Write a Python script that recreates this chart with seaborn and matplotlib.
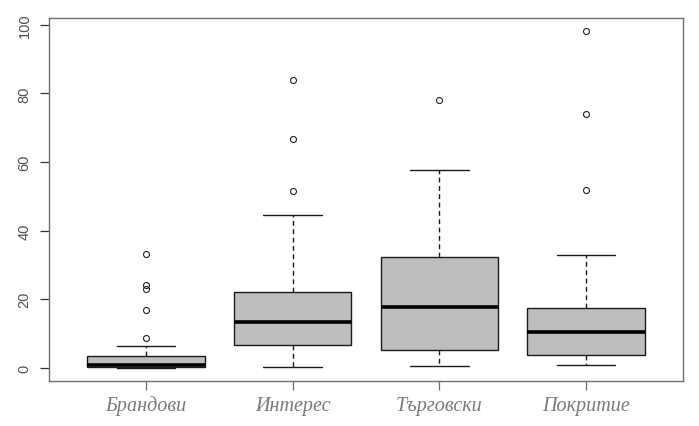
import numpy as np
import pandas as pd
import matplotlib
matplotlib.use("Agg")
import matplotlib.pyplot as plt
import seaborn as sns

# categories on the x axis
categories = ["Брандови", "Интерес", "Търговски", "Покритие"]

# values per category (quartiles, whiskers, outliers)
brandovi = [0.0, 0.0, 0.1, 0.1, 0.1, 0.2, 0.2, 0.3, 0.4, 0.4, 0.5, 0.5, 0.6,
            0.8, 1.1, 1.5, 2.0, 2.6, 3.4, 6.3, 8.6, 16.7, 22.8, 24.1, 33.2]
interes = [0.3, 2.1, 3.8, 5.2, 6.7, 8.4, 10.1, 11.9, 13.3, 15.2, 17.4, 19.8,
           22.0, 44.5, 51.6, 66.6, 83.9]
targovski = [0.4, 1.8, 2.9, 4.0, 5.1, 8.3, 11.2, 14.6, 17.6, 20.5, 24.3, 28.1,
             32.4, 38.0, 45.9, 57.7, 78.2]
pokritie = [0.6, 1.2, 2.0, 2.9, 3.7, 5.4, 7.1, 8.8, 10.5, 12.0, 13.6, 15.4,
            17.3, 32.9, 51.8, 74.0, 98.1]

yticks = [0, 20, 40, 60, 80, 100]

df = pd.concat([
    pd.DataFrame({"group": name, "value": vals})
    for name, vals in zip(categories, [brandovi, interes, targovski, pokritie])
])

sns.set_style("white")
plt.rcParams["font.family"] = ["Liberation Sans", "DejaVu Sans"]

fig = plt.figure(figsize=(6.99, 4.27), dpi=100)
ax = fig.add_axes([0.0701, 0.1054, 0.9069, 0.8501])

sns.boxplot(
    data=df, x="group", y="value", order=categories,
    color="#bebebe", linecolor="#1a1a1a", saturation=1,
    linewidth=1.0, width=0.8, whis=1.5,
    flierprops=dict(marker="o", markersize=4.3, markerfacecolor="none",
                    markeredgecolor="#222222", markeredgewidth=0.8),
    medianprops=dict(linewidth=2.6, color="black"),
    whiskerprops=dict(linestyle=(0, (3.5, 2.5))),
    ax=ax,
)

# R-like axis ranges (4% padding)
allv = df["value"].to_numpy()
lo, hi = allv.min(), allv.max()
pad = 0.04 * (hi - lo)
ax.set_ylim(lo - pad, hi + pad)
ax.set_xlim(-0.66, len(categories) - 1 + 0.66)

frame = "#6e6e6e"
for s in ax.spines.values():
    s.set_visible(True)
    s.set_color(frame)
    s.set_linewidth(1.0)

ax.set_yticks(yticks)
ax.set_yticklabels([str(t) for t in yticks], rotation=90, va="center",
                   fontsize=10.5, color="#505050")
ax.tick_params(axis="y", direction="out", length=6.5, width=0.9,
               color="#333333", pad=6, left=True)
ax.tick_params(axis="x", direction="out", length=6.5, width=0.9,
               color=frame, pad=4, bottom=True)
ax.set_xticklabels(categories, fontsize=14.5, color="#7a7a7a",
                   family=["Liberation Serif", "DejaVu Serif"], style="italic")
ax.set_xlabel("")
ax.set_ylabel("")

fig.savefig("out.png", dpi=100)
